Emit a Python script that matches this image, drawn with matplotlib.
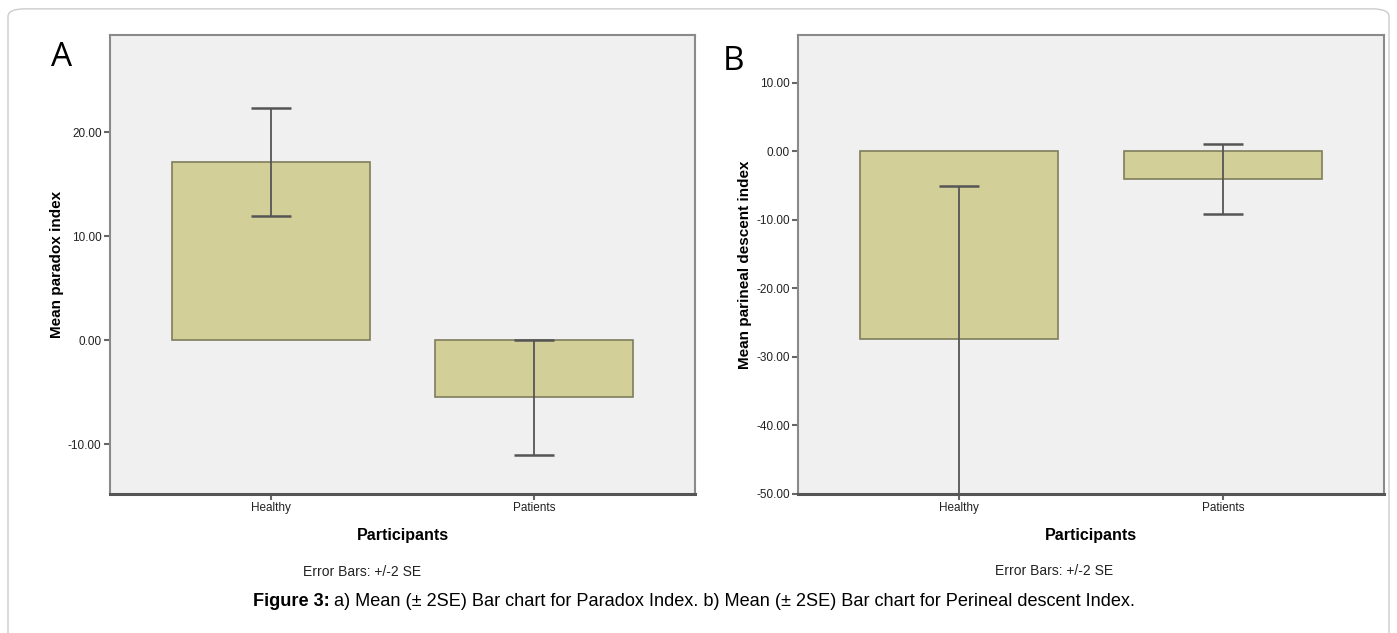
import matplotlib
matplotlib.use("Agg")
import matplotlib.pyplot as plt
from matplotlib.patches import FancyBboxPatch

plt.rcParams["font.family"] = ["Liberation Sans", "DejaVu Sans"]

# Data
groups = ["Healthy", "Patients"]
paradox_mean = [17.2, -5.5]
paradox_lo = [12.0, -11.0]
paradox_hi = [22.4, 0.0]
perineal_mean = [-27.4, -4.1]
perineal_lo = [-50.0, -9.2]
perineal_hi = [-5.0, 1.0]

paradox_ticks = [-10, 0, 10, 20]
perineal_ticks = [-50, -40, -30, -20, -10, 0, 10]

BAR_COLOR = "#d3cf98"
BAR_EDGE = "#7f7d5c"
ERR_COLOR = "#555555"
BG = "#f0f0f0"


def draw_panel(ax, means, lo, hi, ticks, ylim, ylabel):
    x = list(range(len(groups)))
    ax.set_facecolor(BG)
    ax.bar(x, means, width=0.75, color=BAR_COLOR, edgecolor=BAR_EDGE,
           linewidth=1.2, zorder=2)
    yerr = [[m - l for m, l in zip(means, lo)], [h - m for m, h in zip(means, hi)]]
    ax.errorbar(x, means, yerr=yerr, fmt="none", ecolor=ERR_COLOR,
                elinewidth=1.3, capsize=14.5, capthick=1.8, zorder=3,
                clip_on=False)
    ax.set_xlim(-0.61, 1.61)
    ax.set_ylim(*ylim)
    ax.set_xticks(x)
    ax.set_xticklabels(groups, fontsize=8.5)
    ax.set_yticks(ticks)
    ax.set_yticklabels([f"{t:.2f}" for t in ticks], fontsize=8.5)
    ax.tick_params(axis="both", direction="out", length=4, width=1.5,
                   colors="#666666", labelcolor="#222222", pad=2)
    for side in ["top", "right", "left"]:
        ax.spines[side].set_color("#8a8a8a")
        ax.spines[side].set_linewidth(1.5)
    ax.spines["bottom"].set_color("#555555")
    ax.spines["bottom"].set_linewidth(2.2)
    ax.set_xlabel("Participants", fontsize=11.5, fontweight="bold", labelpad=10)
    ax.set_ylabel(ylabel, fontsize=11, fontweight="bold", labelpad=3)
    return ax


fig = plt.figure(figsize=(13.97, 6.33), dpi=100)

border = FancyBboxPatch((8 / 1397, -0.05), 1381 / 1397, 1.036,
                        boxstyle="round,pad=0,rounding_size=0.012",
                        transform=fig.transFigure, facecolor="none",
                        edgecolor="#cccccc", linewidth=1.0)
fig.patches.append(border)

axA = fig.add_axes([0.0787, 0.2196, 0.4188, 0.7254])
draw_panel(axA, paradox_mean, paradox_lo, paradox_hi, paradox_ticks,
           (-14.8, 29.4), "Mean paradox index")
axB = fig.add_axes([0.5712, 0.2196, 0.4195, 0.7254])
draw_panel(axB, perineal_mean, perineal_lo, perineal_hi, perineal_ticks,
           (-50, 17.0), "Mean parineal descent index")

fig.text(62 / 1397, 1 - 57 / 633, "A", fontsize=24, family="Open Sans",
         ha="center", va="center")
fig.text(733 / 1397, 1 - 62 / 633, "B", fontsize=24, family="Open Sans",
         ha="center", va="center")

fig.text(362 / 1397, 1 - 572 / 633, "Error Bars: +/-2 SE", fontsize=10,
         ha="center", va="center", color="#222222")
fig.text(1054 / 1397, 1 - 571 / 633, "Error Bars: +/-2 SE", fontsize=10,
         ha="center", va="center", color="#222222")

cap_y = 1 - 602 / 633
t1 = fig.text(253 / 1397, cap_y, "Figure 3:", fontsize=13.1, fontweight="bold",
              ha="left", va="center")
fig.canvas.draw()
bb = t1.get_window_extent()
fig.text((bb.x1 + 4) / 1397, cap_y,
         "a) Mean (\u00b1 2SE) Bar chart for Paradox Index. b) Mean (\u00b1 2SE) "
         "Bar chart for Perineal descent Index.",
         fontsize=13.1, ha="left", va="center")

fig.savefig("out.png", dpi=100)
